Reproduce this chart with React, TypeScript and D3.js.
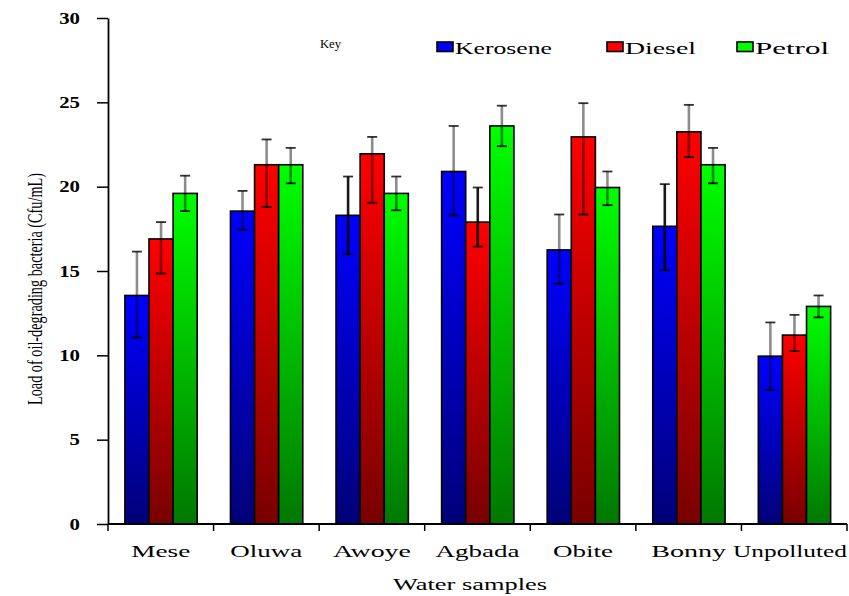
import React, { useEffect, useRef } from 'react';
import * as d3 from 'd3';

// water samples on the x axis
const samples = ['Mese', 'Oluwa', 'Awoye', 'Agbada', 'Obite', 'Bonny', 'Unpolluted'];
const series = ['Kerosene', 'Diesel', 'Petrol'];

// load of oil-degrading bacteria (Cfu/mL), one value per sample
const kerosene = [13.55, 18.55, 18.3, 20.9, 16.25, 17.65, 9.95];
const diesel = [16.9, 21.3, 21.95, 17.9, 22.95, 23.25, 11.2];
const petrol = [19.6, 21.3, 19.6, 23.6, 19.95, 21.3, 12.9];

// error bars: upper and lower lengths
const keroseneUp = [2.6, 1.2, 2.3, 2.7, 2.1, 2.5, 2.0];
const keroseneDown = [2.5, 1.1, 2.3, 2.6, 2.0, 2.6, 2.0];
const dieselUp = [1.0, 1.5, 1.0, 2.05, 2.0, 1.6, 1.2];
const dieselDown = [2.05, 2.5, 2.9, 1.45, 4.6, 1.5, 0.95];
const petrolUp = [1.05, 1.0, 1.0, 1.2, 0.95, 1.0, 0.65];
const petrolDown = [1.05, 1.1, 1.0, 1.2, 1.05, 1.1, 0.65];

const yTicks = [0, 5, 10, 15, 20, 25, 30];

// these error bars were drawn fully black in the original
const solidErrorBars = ['Awoye|Kerosene', 'Agbada|Diesel', 'Bonny|Kerosene'];

const colors: Record<string, [string, string]> = {
  Kerosene: ['#0000ff', '#000078'],
  Diesel: ['#ff0000', '#780000'],
  Petrol: ['#00ff00', '#007800'],
};

const serif = "'Liberation Serif', 'Times New Roman', Tinos, serif";

export default function App() {
  const ref = useRef<SVGSVGElement>(null);

  useEffect(() => {
    const svg = d3.select(ref.current);
    svg.selectAll('*').remove();

    const left = 108, right = 847, top = 18, bottom = 524;

    const values: Record<string, number[]> = { Kerosene: kerosene, Diesel: diesel, Petrol: petrol };
    const ups: Record<string, number[]> = { Kerosene: keroseneUp, Diesel: dieselUp, Petrol: petrolUp };
    const downs: Record<string, number[]> = { Kerosene: keroseneDown, Diesel: dieselDown, Petrol: petrolDown };

    const rows: { sample: string; key: string; v: number; up: number; down: number }[] = [];
    samples.forEach((s, i) => {
      series.forEach(k => {
        rows.push({ sample: s, key: k, v: values[k][i], up: ups[k][i], down: downs[k][i] });
      });
    });

    const x = d3.scaleBand().domain(samples).range([left, right]).padding(0);
    const bw = x.bandwidth();
    const xs = d3.scaleBand().domain(series).range([bw * 0.16, bw * 0.845]);
    const y = d3.scaleLinear().domain([0, 30]).range([bottom, top]);

    const defs = svg.append('defs');
    series.forEach(k => {
      const g = defs.append('linearGradient')
        .attr('id', 'grad-' + k)
        .attr('x1', 0).attr('y1', 0).attr('x2', 0).attr('y2', 1);
      g.append('stop').attr('offset', '0%').attr('stop-color', colors[k][0]);
      g.append('stop').attr('offset', '100%').attr('stop-color', colors[k][1]);
    });

    // bars
    svg.append('g')
      .selectAll('rect')
      .data(rows)
      .enter()
      .append('rect')
      .attr('x', d => (x(d.sample) as number) + (xs(d.key) as number))
      .attr('y', d => y(d.v))
      .attr('width', xs.bandwidth())
      .attr('height', d => y(0) - y(d.v))
      .attr('fill', d => 'url(#grad-' + d.key + ')')
      .attr('stroke', '#000')
      .attr('stroke-width', 1.6);

    // error bars
    const eb = svg.append('g')
      .selectAll('g')
      .data(rows)
      .enter()
      .append('g')
      .attr('transform', d => `translate(${(x(d.sample) as number) + (xs(d.key) as number) + xs.bandwidth() / 2},0)`);
    const isSolid = (d: any) => solidErrorBars.indexOf(d.sample + '|' + d.key) >= 0;
    eb.append('line')
      .attr('y1', d => y(d.v + d.up))
      .attr('y2', d => y(d.v - d.down))
      .attr('stroke', '#000')
      .attr('stroke-opacity', d => (isSolid(d) ? 0.9 : 0.45))
      .attr('stroke-width', 2.6);
    eb.append('line')
      .attr('x1', -5).attr('x2', 5)
      .attr('y1', d => y(d.v + d.up)).attr('y2', d => y(d.v + d.up))
      .attr('stroke', '#000').attr('stroke-opacity', 0.8).attr('stroke-width', 1.8);
    eb.append('line')
      .attr('x1', -5).attr('x2', 5)
      .attr('y1', d => y(d.v - d.down)).attr('y2', d => y(d.v - d.down))
      .attr('stroke', '#000').attr('stroke-opacity', 0.9).attr('stroke-width', 1.8);

    // y axis
    const yAxis = svg.append('g')
      .attr('transform', `translate(${left},0)`)
      .call(d3.axisLeft(y).tickValues(yTicks).tickSize(11).tickSizeOuter(0));
    yAxis.select('.domain').attr('stroke', '#000').attr('stroke-width', 1.8);
    yAxis.selectAll('.tick line').attr('stroke', '#000').attr('stroke-width', 1.5);
    yAxis.selectAll('text')
      .attr('x', -28 / 1.3)
      .attr('transform', 'scale(1.3,1)')
      .style('font-family', serif)
      .style('font-weight', 'bold')
      .style('font-size', '16px')
      .attr('fill', '#000');

    // x axis
    const xAxisG = svg.append('g').attr('transform', `translate(0,${bottom})`);
    xAxisG.append('line')
      .attr('x1', left).attr('x2', right)
      .attr('stroke', '#000').attr('stroke-width', 1.8);
    const bounds = samples.map(s => x(s) as number).concat([right]);
    xAxisG.selectAll('.xt')
      .data(bounds)
      .enter()
      .append('line')
      .attr('class', 'xt')
      .attr('x1', d => d).attr('x2', d => d)
      .attr('y1', 0).attr('y2', 7)
      .attr('stroke', '#000').attr('stroke-width', 1.5);
    // widths of the stretched labels in the original
    const labelW = [59, 72, 78, 84, 60, 75, 114];
    xAxisG.selectAll('.xl')
      .data(samples)
      .enter()
      .append('text')
      .attr('class', 'xl')
      .attr('x', (d, i) => Math.min((x(d) as number) + bw / 2, 847 - labelW[i] / 2))
      .attr('y', 33)
      .attr('text-anchor', 'middle')
      .attr('textLength', (d, i) => labelW[i])
      .attr('lengthAdjust', 'spacingAndGlyphs')
      .style('font-family', serif)
      .style('font-size', '16.5px')
      .text(d => d);

    svg.append('text')
      .attr('x', 470).attr('y', 590)
      .attr('text-anchor', 'middle')
      .attr('textLength', 154)
      .attr('lengthAdjust', 'spacingAndGlyphs')
      .style('font-family', serif)
      .style('font-size', '17.5px')
      .text('Water samples');

    svg.append('text')
      .attr('transform', 'translate(42,289) rotate(-90) scale(1,1.45)')
      .attr('text-anchor', 'middle')
      .style('font-family', serif)
      .style('font-size', '15px')
      .attr('textLength', 232)
      .attr('lengthAdjust', 'spacingAndGlyphs')
      .text('Load of oil-degrading bacteria (Cfu/mL)');

    // legend
    svg.append('text')
      .attr('x', 320).attr('y', 48)
      .style('font-family', serif)
      .style('font-size', '12px')
      .attr('textLength', 21)
      .attr('lengthAdjust', 'spacingAndGlyphs')
      .text('Key');
    const legendX = [437, 607, 737];
    const legendW = [97, 71, 74];
    const lg = svg.append('g')
      .selectAll('g')
      .data(series)
      .enter()
      .append('g')
      .attr('transform', (d, i) => `translate(${legendX[i]},0)`);
    lg.append('rect')
      .attr('x', 0).attr('y', 42)
      .attr('width', 16).attr('height', 9.5)
      .attr('fill', d => colors[d][0])
      .attr('stroke', '#000').attr('stroke-width', 1.6);
    lg.append('text')
      .attr('x', 18).attr('y', 54)
      .style('font-family', serif)
      .style('font-size', '17px')
      .attr('textLength', (d, i) => legendW[i])
      .attr('lengthAdjust', 'spacingAndGlyphs')
      .text(d => d);
  }, []);

  return (
    <svg ref={ref} width={849} height={596}
      style={{ position: 'absolute', left: 0, top: 0, background: '#fff' }} />
  );
}
